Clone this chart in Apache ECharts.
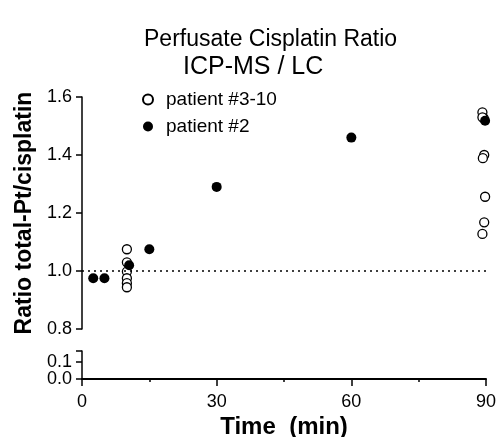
<!DOCTYPE html>
<html>
<head>
<meta charset="utf-8">
<script src="https://cdn.jsdelivr.net/npm/echarts@6/dist/echarts.min.js"></script>
<style>html,body{margin:0;padding:0;background:#fff;}#c{width:496px;height:437px;}</style>
</head>
<body>
<div id="c"></div>
<script>
// Data
const titleLines = ['Perfusate Cisplatin Ratio', 'ICP-MS / LC'];
const xTickValues = [0, 30, 60, 90];
const upperYTicks = [0.8, 1.0, 1.2, 1.4, 1.6];
const lowerYTicks = [0.0, 0.1];
const lowerYMax = 0.165;
const referenceLine = 1.0;

// patient #3-10 (open circles): [time min, ratio]
const openTimes  = [10, 10, 10, 10, 10, 10, 89.2, 89.5, 89.6, 89.3, 89.8, 89.6, 89.2, 89.2];
const openRatios = [1.075, 1.03, 0.998, 0.975, 0.958, 0.944, 1.547, 1.527, 1.40, 1.389, 1.256, 1.168, 1.128, 1.53];

// patient #2 (filled circles)
const filledTimes  = [2.5, 5, 10.5, 15, 30, 60, 89.8];
const filledRatios = [0.975, 0.975, 1.02, 1.075, 1.29, 1.46, 1.518];

const openData = openTimes.map((t, i) => [t, openRatios[i]]);
const filledData = filledTimes.map((t, i) => [t, filledRatios[i]]);

const FONT = 'Liberation Sans';
const chart = echarts.init(document.getElementById('c'), null, {renderer: 'canvas'});

const lowerAxisBase = {
  gridIndex: 1, type: 'value', min: 0, max: lowerYMax, position: 'left', offset: 0,
  splitLine: {show: false}
};

const option = {
  backgroundColor: '#fff',
  animation: false,
  title: [
    {text: titleLines[0], left: 139, top: 23, textStyle: {fontFamily: FONT, fontSize: 23, fontWeight: 'normal', color: '#000'}},
    {text: titleLines[1], left: 178, top: 50, textStyle: {fontFamily: FONT, fontSize: 25, fontWeight: 'normal', color: '#000'}}
  ],
  legend: {
    orient: 'vertical',
    left: 137, top: 85,
    itemWidth: 10, itemHeight: 10, itemGap: 8,
    textStyle: {fontFamily: FONT, fontSize: 19, color: '#000', padding: [0, 0, 0, 8]},
    data: ['patient #3-10', 'patient #2']
  },
  grid: [
    {left: 82, right: 10, top: 97, height: 232, outerBoundsMode: 'none', containLabel: false},
    {left: 82, right: 10, top: 351, height: 28, outerBoundsMode: 'none', containLabel: false}
  ],
  xAxis: [
    {gridIndex: 0, type: 'value', min: 0, max: 90, show: false},
    {gridIndex: 1, type: 'value', min: 0, max: 90, interval: 30,
     axisLine: {show: true, lineStyle: {color: '#000', width: 2}},
     axisTick: {show: true, length: 7, lineStyle: {color: '#000', width: 1.5}},
     minorTick: {show: true, splitNumber: 2, length: 3, lineStyle: {color: '#000', width: 1.5}},
     splitLine: {show: false},
     axisLabel: {fontFamily: FONT, fontSize: 18, color: '#000', margin: 14,
       formatter: v => xTickValues.includes(v) ? String(v) : ''},
     name: 'Time  (min)', nameLocation: 'middle', nameGap: 36,
     nameTextStyle: {fontFamily: FONT, fontSize: 24, fontWeight: 'bold', color: '#000'}}
  ],
  yAxis: [
    {gridIndex: 0, type: 'value', min: 0.8, max: 1.6, interval: 0.2,
     axisLine: {show: true, lineStyle: {color: '#000', width: 1.5}},
     axisTick: {show: true, length: 6, lineStyle: {color: '#000', width: 1.5}},
     splitLine: {show: false},
     axisLabel: {fontFamily: FONT, fontSize: 18, color: '#000', margin: 10,
       formatter: v => upperYTicks.some(t => Math.abs(t - v) < 1e-6) ? v.toFixed(1) : ''},
     name: 'Ratio total-Pt/cisplatin', nameLocation: 'middle', nameGap: 46,
     nameTextStyle: {fontFamily: FONT, fontSize: 23, fontWeight: 'bold', color: '#000'}},
    Object.assign({}, lowerAxisBase, {
     axisLine: {show: true, lineStyle: {color: '#000', width: 1.5}},
     axisTick: {show: true, length: 6, customValues: lowerYTicks.concat([lowerYMax]), lineStyle: {color: '#000', width: 1.5}},
     axisLabel: {fontFamily: FONT, fontSize: 18, color: '#000', margin: 10,
       customValues: [lowerYTicks[1]], formatter: v => v.toFixed(1)}}),
    Object.assign({}, lowerAxisBase, {
     axisLine: {show: false},
     axisTick: {show: false},
     axisLabel: {fontFamily: FONT, fontSize: 18, color: '#000', margin: 10,
       customValues: [lowerYTicks[0]], formatter: v => v.toFixed(1)}})
  ],
  series: [
    {name: 'patient #3-10', type: 'scatter', xAxisIndex: 0, yAxisIndex: 0,
     symbol: 'circle', symbolSize: 9,
     itemStyle: {color: '#fff', borderColor: '#000', borderWidth: 1.3, opacity: 1},
     data: openData,
     markLine: {silent: true, symbol: 'none', label: {show: false},
       lineStyle: {color: '#000', type: [2, 4], width: 1.5},
       data: [{yAxis: referenceLine}]},
     z: 3},
    {name: 'patient #2', type: 'scatter', xAxisIndex: 0, yAxisIndex: 0,
     symbol: 'circle', symbolSize: 10,
     itemStyle: {color: '#000', borderColor: '#000', borderWidth: 0, opacity: 1},
     data: filledData, z: 4}
  ]
};
chart.setOption(option);
</script>
</body>
</html>
